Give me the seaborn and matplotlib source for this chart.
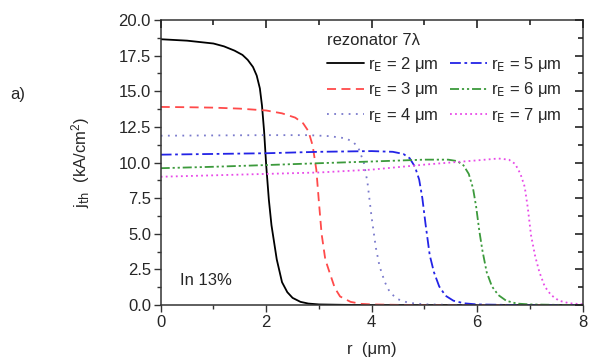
import numpy as np
import pandas as pd
import matplotlib
matplotlib.use("Agg")
import matplotlib.pyplot as plt
import seaborn as sns
from matplotlib.ticker import MultipleLocator, FormatStrFormatter, FixedLocator

# ---------------- data ----------------
r2 = [0, 0.5, 1.0, 1.2, 1.4, 1.55, 1.65, 1.75, 1.82, 1.88, 1.92, 1.96, 2.0, 2.05, 2.1, 2.2, 2.3, 2.4, 2.5, 2.65, 2.8, 3.0, 3.5, 4, 5, 6, 7, 8]
j2 = [18.65, 18.55, 18.35, 18.15, 17.85, 17.55, 17.2, 16.7, 16.1, 15.2, 14.0, 12.2, 9.8, 7.4, 5.6, 3.2, 1.6, 0.9, 0.5, 0.22, 0.1, 0.04, 0.01, 0, 0, 0, 0, 0]

r3 = [0, 0.5, 1, 1.5, 2.0, 2.3, 2.55, 2.7, 2.8, 2.88, 2.95, 3.0, 3.05, 3.12, 3.2, 3.3, 3.4, 3.6, 3.8, 4.0, 4.5, 5, 6, 7, 8]
j3 = [13.9, 13.88, 13.85, 13.78, 13.65, 13.45, 13.15, 12.75, 12.2, 11.2, 9.5, 7.2, 5.0, 3.2, 2.3, 1.2, 0.6, 0.22, 0.08, 0.04, 0.01, 0, 0, 0, 0]

r4 = [0, 1, 2, 2.8, 3.2, 3.5, 3.65, 3.75, 3.85, 3.92, 4.0, 4.08, 4.15, 4.25, 4.35, 4.5, 4.7, 5.0, 5.5, 6, 7, 8]
j4 = [11.88, 11.9, 11.92, 11.92, 11.85, 11.7, 11.45, 11.0, 10.0, 8.6, 6.1, 4.0, 2.7, 1.6, 0.85, 0.4, 0.15, 0.05, 0.01, 0, 0, 0]

r5 = [0, 1, 2, 3, 4, 4.4, 4.6, 4.72, 4.82, 4.9, 4.96, 5.02, 5.1, 5.18, 5.28, 5.4, 5.55, 5.75, 6.0, 6.5, 7, 8]
j5 = [10.55, 10.6, 10.65, 10.75, 10.8, 10.75, 10.6, 10.3, 9.7, 8.8, 7.5, 5.7, 3.5, 2.3, 1.3, 0.65, 0.3, 0.12, 0.04, 0.01, 0, 0]

r6 = [0, 1, 2, 3, 4, 5, 5.45, 5.62, 5.74, 5.84, 5.92, 5.98, 6.04, 6.1, 6.18, 6.28, 6.4, 6.55, 6.75, 7.0, 7.5, 8]
j6 = [9.6, 9.7, 9.82, 9.95, 10.07, 10.2, 10.2, 10.1, 9.8, 9.2, 8.2, 6.9, 5.2, 3.8, 2.3, 1.3, 0.7, 0.3, 0.1, 0.04, 0.01, 0]

r7 = [0, 1, 2, 3, 4, 5, 6, 6.4, 6.6, 6.72, 6.82, 6.9, 6.96, 7.02, 7.1, 7.18, 7.28, 7.4, 7.55, 7.75, 8]
j7 = [9.0, 9.1, 9.2, 9.3, 9.5, 9.85, 10.15, 10.28, 10.2, 9.9, 9.2, 8.3, 6.8, 4.9, 3.4, 2.3, 1.3, 0.7, 0.3, 0.12, 0.05]

labels = [r"r$_\mathrm{E}$ = 2 μm", r"r$_\mathrm{E}$ = 3 μm", r"r$_\mathrm{E}$ = 4 μm",
          r"r$_\mathrm{E}$ = 5 μm", r"r$_\mathrm{E}$ = 6 μm", r"r$_\mathrm{E}$ = 7 μm"]
x_ticks = [0, 2, 4, 6, 8]
y_ticks = [0.0, 2.5, 5.0, 7.5, 10.0, 12.5, 15.0, 17.5, 20.0]

# ---------------- styling ----------------
sns.set_style("white")
plt.rcParams["font.family"] = ["Liberation Sans", "DejaVu Sans"]
plt.rcParams["mathtext.default"] = "regular"
plt.rcParams["font.size"] = 12

curves = [(r2, j2), (r3, j3), (r4, j4), (r5, j5), (r6, j6), (r7, j7)]
colors = ["#000000", "#ff4a4a", "#7a7acc", "#2323e6", "#3c9a3c", "#e84ae8"]
dashes = ["-", (0, (5, 3)), (0, (1, 3)), (0, (6, 2, 1.5, 2)), (0, (5, 1.6, 1.2, 1.6, 1.2, 1.6)), (0, (1, 1.8))]

fig = plt.figure(figsize=(5.9, 3.63), dpi=100)
pos = [160.7 / 590, 1 - 305 / 363, 422 / 590, 285 / 363]
ax = fig.add_axes(pos)
ax.set_zorder(1)

for (rr, jj), c, ls, lab in zip(curves, colors, dashes, labels):
    df = pd.DataFrame({"r": rr, "j": jj})
    sns.lineplot(data=df, x="r", y="j", ax=ax, color=c, linestyle=ls, lw=1.3,
                 label=lab, estimator=None, sort=False)

ax.set_xlim(0, 8)
ax.set_ylim(0, 20)
ax.set_xticks(x_ticks)
ax.set_yticks(y_ticks)
ax.xaxis.set_minor_locator(MultipleLocator(1))
ax.yaxis.set_minor_locator(MultipleLocator(1.25))
ax.yaxis.set_major_formatter(FormatStrFormatter("%.1f"))
ax.tick_params(which="major", bottom=True, left=True, top=False, right=False,
               direction="out", length=5, width=1, labelsize=12, pad=2, color="#333333")
ax.tick_params(which="minor", bottom=True, left=True, top=False, right=False,
               direction="out", length=3, width=1, color="#333333")
for s in ax.spines.values():
    s.set_color("#333333")
    s.set_linewidth(1.1)

# overlay axes carrying the inward ticks on the top and right (drawn above the main axes)
ov = fig.add_axes(pos, frameon=False)
ov.set_zorder(5)
ov.patch.set_alpha(0)
ov.tick_params(which="both", top=True, right=True, bottom=False, left=False,
               labeltop=False, labelright=False, labelbottom=False, labelleft=False,
               direction="in", color="#222222", width=1.2, length=6)
ov.set_xlim(0, 8)
ov.set_ylim(0, 20)
ov.xaxis.set_major_locator(FixedLocator(x_ticks))
ov.yaxis.set_major_locator(FixedLocator(y_ticks))
ov.xaxis.set_minor_locator(MultipleLocator(1))
ov.yaxis.set_minor_locator(MultipleLocator(1.25))
ov.tick_params(which="minor", length=3.5)

ax.set_xlabel("r  (μm)", fontsize=12)
ax.xaxis.set_label_coords(0.5, -0.13)
ax.set_ylabel(r"j$_\mathrm{th}$  (kA/cm$^2$)", fontsize=12)
ax.yaxis.set_label_coords(-0.162, 0.5)

leg = ax.legend(ncol=2, frameon=False, title="rezonator 7λ", fontsize=12, title_fontsize=12,
                loc="upper left", bbox_to_anchor=((327 - 160.7) / 422, (305 - 33) / 285),
                handlelength=2.2, handletextpad=0.25, columnspacing=0.7, labelspacing=0.4,
                borderaxespad=0, borderpad=0)
leg._legend_box.align = "left"

ax.text((180 - 160.7) / 422, (305 - 285) / 285, "In 13%", transform=ax.transAxes, fontsize=12)

fig.text(18 / 590, 1 - 95 / 363, "a)", ha="center", va="center", fontsize=12)

fig.savefig("out.png", dpi=100)
